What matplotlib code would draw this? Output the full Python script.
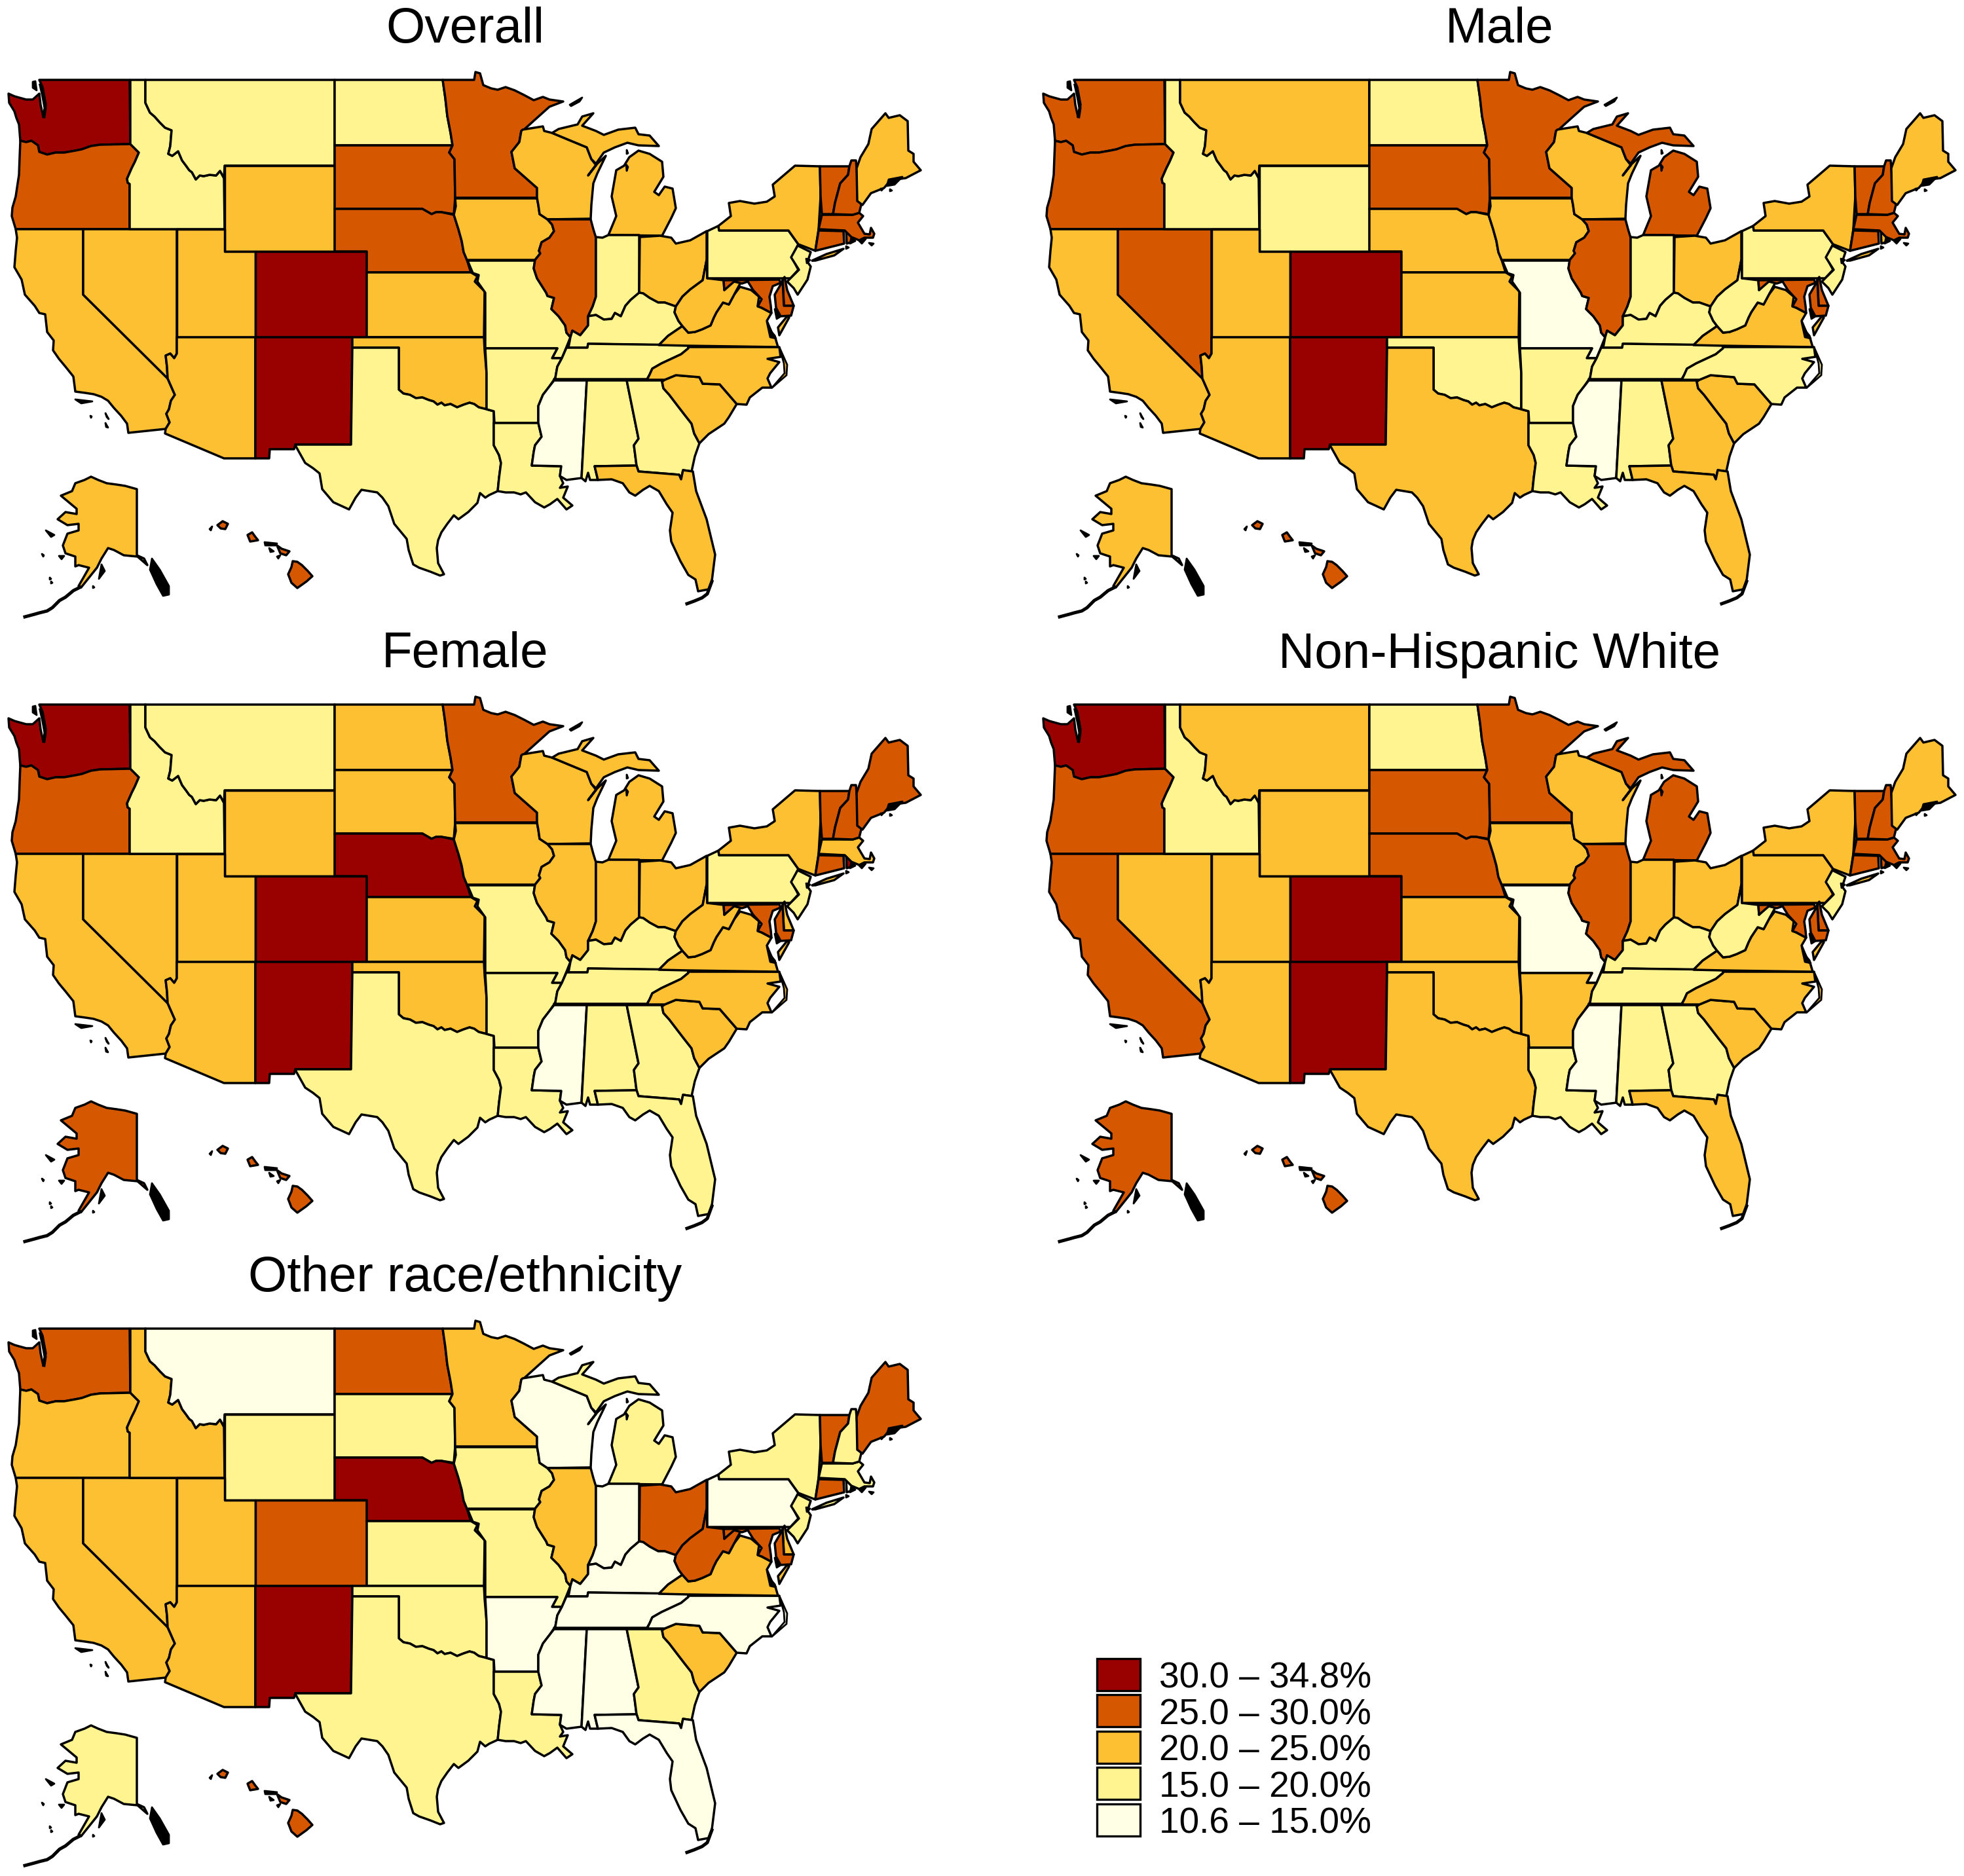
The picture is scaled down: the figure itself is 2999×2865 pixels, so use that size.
import matplotlib
matplotlib.use("Agg")
import matplotlib.pyplot as plt
from matplotlib.patches import Rectangle

plt.rcParams['font.family'] = ['Liberation Sans', 'DejaVu Sans']

W, H = 2999, 2865

# kolory klas, od najnizszej do najwyzszej
BIN_COLORS = ["#FFFFE6", "#FFF48F", "#FEC033", "#D55800", "#990000"]
BIN_LABELS = ["10.6 \u2013 15.0%", "15.0 \u2013 20.0%", "20.0 \u2013 25.0%", "25.0 \u2013 30.0%", "30.0 \u2013 34.8%"]

STATES = ["WA", "OR", "CA", "NV", "ID", "MT", "WY", "UT", "AZ", "CO", "NM",
          "ND", "SD", "NE", "KS", "OK", "TX", "MN", "IA", "MO", "AR", "LA",
          "WI", "IL", "MI", "IN", "OH", "KY", "TN", "MS", "AL", "GA", "FL",
          "SC", "NC", "VA", "WV", "PA", "NY", "NJ", "DE", "MD", "CT", "RI",
          "MA", "VT", "NH", "ME", "AK", "HI"]

OVERALL = [4, 3, 2, 2, 1, 1, 2, 2, 2, 4, 4,
           1, 3, 3, 2, 2, 1, 3, 2, 1, 1, 1,
           2, 3, 2, 1, 2, 1, 1, 0, 1, 1, 2,
           2, 2, 2, 2, 1, 2, 1, 3, 3, 3, 3,
           3, 3, 3, 2, 2, 3]
MALE = [3, 3, 2, 3, 1, 2, 1, 2, 2, 4, 4,
        1, 3, 2, 2, 1, 2, 3, 2, 0, 1, 1,
        2, 3, 3, 1, 2, 1, 1, 0, 1, 2, 2,
        2, 1, 2, 1, 1, 2, 1, 3, 3, 3, 2,
        3, 3, 3, 2, 2, 3]
FEMALE = [4, 3, 2, 2, 1, 1, 2, 2, 2, 4, 4,
          2, 2, 4, 2, 2, 1, 3, 2, 1, 1, 1,
          2, 2, 2, 2, 2, 1, 1, 0, 1, 1, 1,
          2, 2, 2, 2, 1, 2, 1, 2, 3, 3, 4,
          2, 3, 3, 3, 3, 3]
WHITE = [4, 3, 3, 2, 1, 2, 2, 2, 2, 4, 4,
         1, 3, 3, 2, 2, 2, 3, 2, 0, 2, 1,
         2, 3, 3, 2, 2, 1, 1, 0, 1, 1, 2,
         2, 2, 2, 1, 2, 2, 1, 3, 3, 3, 3,
         3, 3, 3, 2, 3, 3]
OTHER = [3, 2, 2, 2, 2, 0, 1, 2, 2, 3, 4,
         3, 1, 4, 1, 1, 1, 2, 1, 1, 0, 1,
         0, 2, 1, 0, 3, 0, 0, 0, 0, 1, 0,
         2, 0, 2, 3, 0, 1, 1, 2, 3, 3, 0,
         1, 3, 1, 3, 1, 3]

TITLES = ["Overall", "Male", "Female", "Non-Hispanic White", "Other race/ethnicity"]
PANEL_VALUES = [OVERALL, MALE, FEMALE, WHITE, OTHER]
PANEL_OFFSETS = [(0, 0), (1580, 0), (0, 954), (1580, 954), (0, 1907)]

# Wspolne odcinki granic (piksele obrazu w pierwszym panelu)
WA_OR = [(199, 220), (153, 221), (139, 223), (125, 228), (115, 230), (98, 233), (85, 233), (72, 236), (60, 232),
         (58, 222), (48, 215), (40, 217), (31, 215)]
ID_MT = [(222, 122), (222, 157), (229, 172), (236, 178), (244, 187), (252, 195), (262, 199), (260, 223), (257, 235),
         (263, 238), (272, 231), (278, 245), (284, 253), (289, 260), (293, 263), (299, 274), (305, 268), (311, 269),
         (320, 267), (330, 268), (336, 261), (342, 272)]
ID_OR = [(199, 220), (201, 222), (212, 233), (206, 247), (201, 257), (194, 273), (195, 279), (198, 281), (198, 350)]
IL_MO = [(836, 335), (843, 343), (846, 353), (839, 363), (827, 370), (823, 383), (825, 387), (817, 397), (815, 410),
         (820, 425), (834, 447), (836, 452), (846, 455), (842, 472), (853, 483), (863, 497), (865, 508), (871, 515)]
OHIO = [(898, 483), (910, 481), (922, 488), (934, 487), (939, 478), (948, 483), (955, 467), (963, 458), (976, 447),
        (982, 448), (992, 455), (1005, 462), (1015, 462), (1032, 468)]
RED_RIVER = [(609, 595), (616, 601), (626, 603), (635, 608), (645, 607), (655, 611), (662, 613), (668, 618), (674, 615),
             (679, 619), (688, 617), (698, 622), (708, 618), (717, 615), (724, 617), (731, 622), (743, 625)]
LOWER_MISS = [(865, 530), (858, 547), (851, 560), (848, 577), (839, 590), (829, 603), (822, 620), (822, 646)]
NE_IA = [(693, 328), (700, 350), (705, 368), (708, 385), (713, 397)]
WI_MN = [(796, 200), (793, 217), (781, 232), (786, 257), (803, 272), (820, 287), (820, 302)]
CA_AZ = [(256, 578), (267, 603), (261, 612), (258, 625), (254, 632), (259, 645), (253, 655)]
NV_AZ = [(270, 515), (270, 540), (266, 547), (260, 540), (253, 543), (255, 560), (256, 578)]
WV_VA = [(1051, 508), (1061, 507), (1072, 503), (1085, 497), (1090, 485), (1094, 477), (1104, 462), (1113, 465),
         (1121, 450), (1130, 438)]
WV_KY = [(1032, 468), (1030, 477), (1036, 490), (1042, 498)]
NC_TN = [(1051, 532), (1040, 541), (1025, 548), (1010, 555), (996, 563), (992, 572), (988, 579)]
SC_NC = [(1015, 580), (1032, 573), (1068, 576), (1073, 586), (1099, 587), (1125, 617)]
GA_SC = [(1011, 583), (1013, 593), (1022, 603), (1035, 620), (1045, 633), (1056, 647), (1060, 662), (1068, 677)]
VT_NH = [(1297, 254), (1295, 267), (1283, 280), (1275, 310), (1272, 327)]

# Kontury stanow
SHAPES = {
    "WA": [[(60, 122), (198, 122)] + WA_OR + [(29, 190), (25, 180), (22, 170), (14, 157), (13, 143), (22, 147), (29, 149), (40, 152),
            (50, 152), (60, 143), (62, 160), (66, 178), (70, 160), (65, 133)]],
    "OR": [WA_OR[::-1] + ID_OR[1:] + [(24, 350), (18, 330), (19, 317), (24, 300), (27, 280), (29, 267), (30, 240)]],
    "CA": [[(24, 350), (127, 350), (127, 450)] + CA_AZ + [(196, 661), (194, 647), (185, 635), (174, 623), (165, 612),
            (155, 606), (143, 602), (130, 600), (115, 598), (112, 575), (100, 560), (90, 548), (81, 535), (82, 520), (72, 507),
            (69, 480), (60, 478), (53, 467), (38, 450), (33, 427), (22, 408), (24, 383), (26, 363)]],
    "NV": [[(127, 350), (270, 350)] + NV_AZ + [(127, 450)]],
    "ID": [[(199, 122)] + ID_MT + [(343, 350), (198, 350)] + ID_OR[::-1][1:]],
    "MT": [[(222, 122), (511, 122), (511, 253), (343, 253)] + ID_MT[::-1][:-1]],
    "WY": [[(343, 253), (511, 253), (511, 384), (343, 384)]],
    "UT": [[(270, 350), (343, 350), (343, 384), (390, 384), (390, 515), (270, 515)]],
    "AZ": [[(270, 515), (390, 515), (390, 700), (342, 700), (252, 662)] + CA_AZ[::-1][:-1] + NV_AZ[::-1][:-1]],
    "CO": [[(390, 384), (560, 384), (560, 515), (390, 515)]],
    "NM": [[(390, 515), (538, 515), (536, 679), (451, 679), (449, 686), (412, 686), (411, 700), (390, 700)]],
    "ND": [[(511, 122), (676, 122), (680, 150), (683, 177), (688, 203), (691, 222), (511, 222)]],
    "SD": [[(511, 222), (691, 222), (686, 233), (694, 243), (695, 302), (693, 327), (674, 324), (666, 324), (659, 327), (645, 319), (511, 319)]],
    "NE": [[(511, 319), (645, 319), (659, 327), (666, 324), (674, 324)] + NE_IA + [(719, 416), (560, 416), (560, 384), (511, 384)]],
    "KS": [[(560, 416), (719, 416), (729, 422), (725, 430), (740, 445), (739, 515), (560, 515)]],
    "OK": [[(538, 515), (739, 515), (740, 535), (743, 570)] + RED_RIVER[::-1] + [(609, 531), (538, 531)]],
    "TX": [[(538, 531), (609, 531)] + RED_RIVER + [(754, 628), (754, 680), (762, 695), (765, 707), (762, 730), (760, 750), (747, 756),
            (741, 760), (733, 753), (729, 768), (715, 782), (700, 793), (693, 787), (683, 800), (674, 813), (669, 825), (667, 837), (669, 860),
            (678, 877), (672, 879), (657, 873), (640, 867), (631, 862), (624, 840), (621, 823), (602, 800), (593, 773),
            (584, 760), (576, 752), (552, 748), (543, 760), (533, 778), (520, 772), (509, 767), (492, 747), (488, 723), (478, 715), (466, 707), (452, 682), (451, 679),
            (536, 679)]],
    "MN": [[(676, 122), (724, 122), (726, 110), (733, 112), (738, 130), (750, 135), (760, 137), (772, 133), (786, 138), (800, 145), (815, 153),
            (829, 148), (839, 152), (860, 155), (839, 163), (820, 180), (800, 198)] + WI_MN + [(695, 302), (694, 243), (686, 233), (691, 222), (688, 203), (683, 177), (680, 150)]],
    "IA": [[(695, 303), (820, 303), (822, 313), (824, 327)] + IL_MO[:8] + [(713, 397)] + NE_IA[::-1][1:] + [(696, 315)]],
    "MO": [[(714, 398), (817, 398)] + IL_MO[8:] + [(865, 530), (858, 547), (843, 547), (851, 532), (741, 532), (741, 447), (729, 430), (731, 420), (722, 417)]],
    "AR": [[(741, 532), (851, 532), (843, 547), (858, 547), (851, 560), (848, 577), (839, 590), (829, 603), (822, 620), (822, 646), (755, 646),
            (754, 628), (743, 625), (743, 570)]],
    "LA": [[(754, 646), (822, 646), (827, 667), (817, 680), (815, 690), (812, 711), (857, 712), (855, 727), (860, 738), (855, 745), (867, 743),
            (860, 760), (874, 772), (865, 778), (851, 762), (840, 770), (831, 775), (817, 767), (803, 752), (795, 755), (785, 752), (772, 752), (760, 750),
            (762, 730), (765, 707), (762, 695), (754, 680)]],
    "WI": [[(798, 198), (829, 193), (831, 200), (843, 203), (867, 213), (896, 225), (903, 243), (910, 252), (898, 268), (912, 250), (925, 238),
            (912, 265), (906, 280), (903, 313), (902, 334), (836, 335), (824, 327), (822, 313)] + WI_MN[::-1]],
    "IL": [IL_MO + [(874, 505), (886, 512), (898, 497), (898, 483), (905, 468), (910, 453), (910, 363), (906, 350), (902, 335)]],
    "MI": [[(843, 203), (853, 197), (882, 190), (889, 178), (906, 173), (889, 192), (910, 200), (922, 206), (944, 198), (970, 195),
            (975, 205), (992, 207), (1006, 223), (975, 222), (958, 218), (939, 225), (922, 233), (910, 250), (903, 243), (896, 225), (867, 213)],
           [(975, 230), (992, 235), (1011, 247), (1013, 270), (999, 293), (1006, 298), (1015, 285), (1027, 288), (1032, 318), (1025, 333),
            (1011, 360), (929, 359), (941, 330), (934, 300), (941, 260), (953, 253), (961, 240)]],
    "IN": [[(910, 362), (920, 363), (929, 359), (976, 359), (976, 447)] + OHIO[:9][::-1][1:] + [(905, 468), (910, 453)]],
    "OH": [[(977, 362), (1008, 360), (1025, 363), (1032, 372), (1054, 367), (1079, 353), (1079, 397), (1073, 428), (1054, 442),
            (1042, 453), (1032, 468)] + OHIO[8:][::-1][1:]],
    "KY": [OHIO + WV_KY[1:] + [(1020, 513), (1006, 527), (898, 525), (897, 531), (868, 531), (871, 515), (874, 505), (886, 512), (898, 497)]],
    "TN": [[(865, 531), (897, 531), (898, 525), (1051, 527)] + NC_TN + [(846, 579), (848, 577), (851, 560), (858, 547)]],
    "MS": [[(846, 581), (896, 581), (888, 730), (865, 733), (855, 727), (857, 712), (812, 711), (815, 690), (817, 680), (827, 667), (822, 646),
            (822, 620), (829, 603), (839, 590)]],
    "AL": [[(896, 581), (957, 581), (975, 670), (968, 680), (972, 711), (908, 712), (913, 733), (901, 733), (898, 722), (894, 735), (888, 730)]],
    "GA": [[(957, 581), (1011, 581)] + GA_SC + [(1061, 697), (1056, 720), (1043, 718), (1040, 732),
            (1037, 725), (975, 720), (972, 711), (968, 680), (975, 670)]],
    "FL": [[(908, 712), (972, 711), (975, 720), (1037, 725), (1040, 732), (1043, 718), (1058, 720), (1063, 750), (1079, 793), (1092, 847),
            (1087, 887), (1082, 900), (1066, 903), (1062, 885), (1051, 878), (1039, 857), (1025, 827), (1023, 810), (1027, 783), (1018, 770), (1006, 750),
            (992, 742), (982, 748), (970, 757), (961, 752), (951, 738), (934, 732), (913, 733)]],
    "SC": [[(1011, 583)] + SC_NC + [(1113, 637), (1106, 647), (1082, 663), (1068, 677)] + GA_SC[::-1][1:]],
    "NC": [[(1051, 530), (1190, 530), (1192, 545), (1172, 548), (1190, 553), (1176, 570), (1172, 578), (1178, 592), (1164, 592), (1145, 607),
            (1140, 618)] + SC_NC[::-1] + [(988, 580)] + NC_TN[::-1][1:]],
    "VA": [[(1006, 527), (1020, 513), (1042, 498)] + WV_VA + [(1147, 443), (1159, 453), (1157, 467), (1178, 478), (1171, 490), (1178, 507), (1183, 513), (1188, 530), (1051, 528)],
           [(1202, 483), (1205, 485), (1195, 503), (1190, 512), (1188, 500)]],
    "WV": [[(1079, 397), (1080, 425), (1105, 428), (1106, 443), (1121, 428), (1133, 428)] + WV_VA[::-1][1:] + [(1042, 498)] + WV_KY[::-1][1:] + [(1042, 453), (1054, 442), (1073, 428)]],
    "PA": [[(1080, 353), (1097, 345), (1098, 352), (1204, 352), (1219, 373), (1209, 393), (1219, 412), (1207, 425), (1080, 425)]],
    "NY": [[(1097, 345), (1116, 330), (1113, 310), (1130, 307), (1152, 311), (1171, 308), (1183, 300), (1180, 282), (1214, 253), (1252, 254),
            (1253, 300), (1250, 350), (1245, 383), (1219, 373), (1204, 352), (1098, 352)],
           [(1240, 398), (1262, 388), (1288, 380), (1274, 390), (1245, 398)]],
    "NJ": [[(1218, 375), (1238, 385), (1233, 400), (1238, 407), (1233, 427), (1218, 450), (1212, 440), (1202, 430), (1220, 412), (1208, 393)]],
    "DE": [[(1195, 427), (1198, 423), (1202, 443), (1212, 467), (1197, 467)]],
    "MD": [[(1105, 428), (1190, 427), (1192, 432), (1180, 437), (1175, 453), (1177, 467), (1178, 478), (1163, 470), (1157, 468), (1163, 457),
            (1150, 443), (1142, 430), (1133, 433), (1121, 430), (1106, 443)],
           [(1195, 427), (1197, 467), (1212, 467), (1208, 482), (1192, 483), (1185, 470), (1183, 450), (1193, 433)]],
    "CT": [[(1250, 352), (1288, 353), (1289, 372), (1245, 383)]],
    "RI": [[(1292, 353), (1300, 352), (1305, 368), (1293, 372)]],
    "MA": [[(1255, 328), (1302, 328), (1312, 325), (1318, 330), (1310, 340), (1320, 357), (1328, 358), (1330, 348), (1335, 357), (1333, 363),
            (1320, 363), (1312, 367), (1300, 362), (1290, 352), (1250, 350)]],
    "VT": [[(1252, 254)] + VT_NH + [(1255, 327), (1253, 300)]],
    "NH": [[(1297, 254), (1300, 245), (1307, 245), (1310, 280), (1315, 313), (1312, 325), (1302, 328)] + VT_NH[::-1][:-1]],
    "ME": [[(1352, 173), (1357, 180), (1374, 176), (1386, 185), (1387, 230), (1395, 235), (1395, 247), (1406, 260), (1383, 272), (1360, 275),
            (1350, 287), (1330, 295), (1317, 313), (1309, 307), (1308, 257), (1314, 240), (1326, 220), (1331, 197)]],
    "AK": [[(139, 728), (150, 733), (163, 738), (178, 740), (191, 742), (209, 747), (209, 848), (220, 853), (225, 863), (210, 850), (189, 848), (174, 840), (165, 837),
            (160, 845), (155, 853), (148, 867), (124, 897), (120, 895), (136, 867), (120, 863), (115, 865), (115, 850), (100, 845), (96, 833), (103, 815),
            (120, 810), (120, 800), (103, 802), (88, 793), (100, 782), (117, 785), (117, 777), (93, 757), (110, 750), (115, 738), (129, 733)]],
    "HI": [[(447, 857), (454, 858), (461, 863), (470, 872), (477, 880), (468, 888), (454, 898), (445, 890), (440, 877), (445, 866)],
           [(423, 833), (430, 838), (442, 842), (437, 848), (428, 845)],
           [(378, 817), (385, 813), (390, 820), (394, 825), (382, 827)],
           [(332, 802), (340, 796), (348, 800), (344, 808), (337, 807)]],
}

# drobne wyspy i zatoki, zawsze czarne
BLACK_BITS = [
    [(50, 125), (54, 124), (56, 138), (50, 134)],
    [(115, 610), (141, 613), (124, 616)], [(161, 631), (166, 640), (163, 637)],
    [(138, 635), (140, 636), (139, 638)], [(161, 646), (165, 653), (162, 652)],
    [(870, 160), (889, 149), (885, 155), (872, 162)],
    [(957, 229), (959, 234), (957, 235)], [(956, 251), (959, 255), (957, 261)],
    [(1357, 274), (1378, 270), (1366, 282), (1354, 284)],
    [(1345, 288), (1348, 289), (1346, 291)], [(1359, 289), (1362, 291), (1359, 292)],
    [(1300, 362), (1306, 368), (1298, 372)], [(1312, 368), (1322, 365), (1316, 372)],
    [(1327, 371), (1334, 372), (1331, 375)], [(1292, 376), (1296, 378), (1292, 380)],
    [(1231, 395), (1237, 397), (1232, 402)], [(1183, 472), (1191, 484), (1186, 487)],
    [(1171, 492), (1180, 510), (1185, 517), (1176, 515)],
    [(232, 853), (244, 870), (258, 895), (258, 908), (249, 910), (239, 892), (229, 870)],
    [(70, 810), (83, 817), (78, 820)], [(64, 846), (67, 848), (66, 850)],
    [(90, 849), (98, 849), (94, 854)], [(155, 862), (160, 872), (151, 884)],
    [(76, 882), (78, 884), (76, 885)], [(78, 888), (80, 890), (78, 891)],
    [(142, 895), (144, 897), (142, 898)],
    [(320, 808), (324, 804), (322, 810)], [(404, 828), (423, 830), (421, 833), (405, 833)],
    [(411, 837), (418, 842), (413, 843)], [(423, 850), (428, 848), (425, 853)],
]
BLACK_LINES = [
    [(122, 897), (112, 902), (100, 912), (91, 917), (80, 928), (72, 933), (60, 936), (53, 938), (38, 942)],
    [(1049, 922), (1060, 918), (1072, 913), (1080, 907), (1087, 888)],
    [(62, 130), (66, 148), (69, 165), (67, 178)],
]
THIN_RINGS = [
    [(1190, 530), (1202, 557), (1201, 573), (1178, 593), (1198, 570), (1197, 555)],
]


def draw_panel(fig, title, values, offset):
    dx, dy = offset
    ax = fig.add_axes([dx / W, 1 - (dy + 953) / H, 1420 / W, 953 / H])
    ax.set_xlim(0, 1420)
    ax.set_ylim(953, 0)
    ax.axis("off")
    for state, val in zip(STATES, values):
        for ring in SHAPES[state]:
            xs, ys = zip(*ring)
            ax.fill(xs, ys, facecolor=BIN_COLORS[val], edgecolor="black", linewidth=2.5, joinstyle="round")
    for ring in THIN_RINGS:
        xs, ys = zip(*ring)
        ax.fill(xs, ys, facecolor=BIN_COLORS[values[STATES.index("NC")]], edgecolor="black", linewidth=2.0)
    for bit in BLACK_BITS:
        xs, ys = zip(*bit)
        ax.fill(xs, ys, facecolor="black", edgecolor="black", linewidth=2.0, joinstyle="round")
    for line in BLACK_LINES:
        xs, ys = zip(*line)
        ax.plot(xs, ys, color="black", linewidth=3.6)
    ax.text(710, 46, title, ha="center", va="center", fontsize=55)


def draw_legend(fig):
    ax = fig.add_axes([0, 0, 1, 1])
    ax.set_xlim(0, W)
    ax.set_ylim(H, 0)
    ax.axis("off")
    ax.patch.set_alpha(0)
    # od gory najwyzsza klasa
    for i, (color, label) in enumerate(zip(BIN_COLORS[::-1], BIN_LABELS[::-1])):
        top = 2533 + i * 55.4
        ax.add_patch(Rectangle((1675, top), 66, 49, facecolor=color, edgecolor="black", linewidth=2.4))
        ax.text(2094, top + 31, label, ha="right", va="center", fontsize=39.6)


fig = plt.figure(figsize=(W / 100, H / 100), dpi=100)
for title, values, offset in zip(TITLES, PANEL_VALUES, PANEL_OFFSETS):
    draw_panel(fig, title, values, offset)
draw_legend(fig)
fig.savefig("out.png", dpi=100)
